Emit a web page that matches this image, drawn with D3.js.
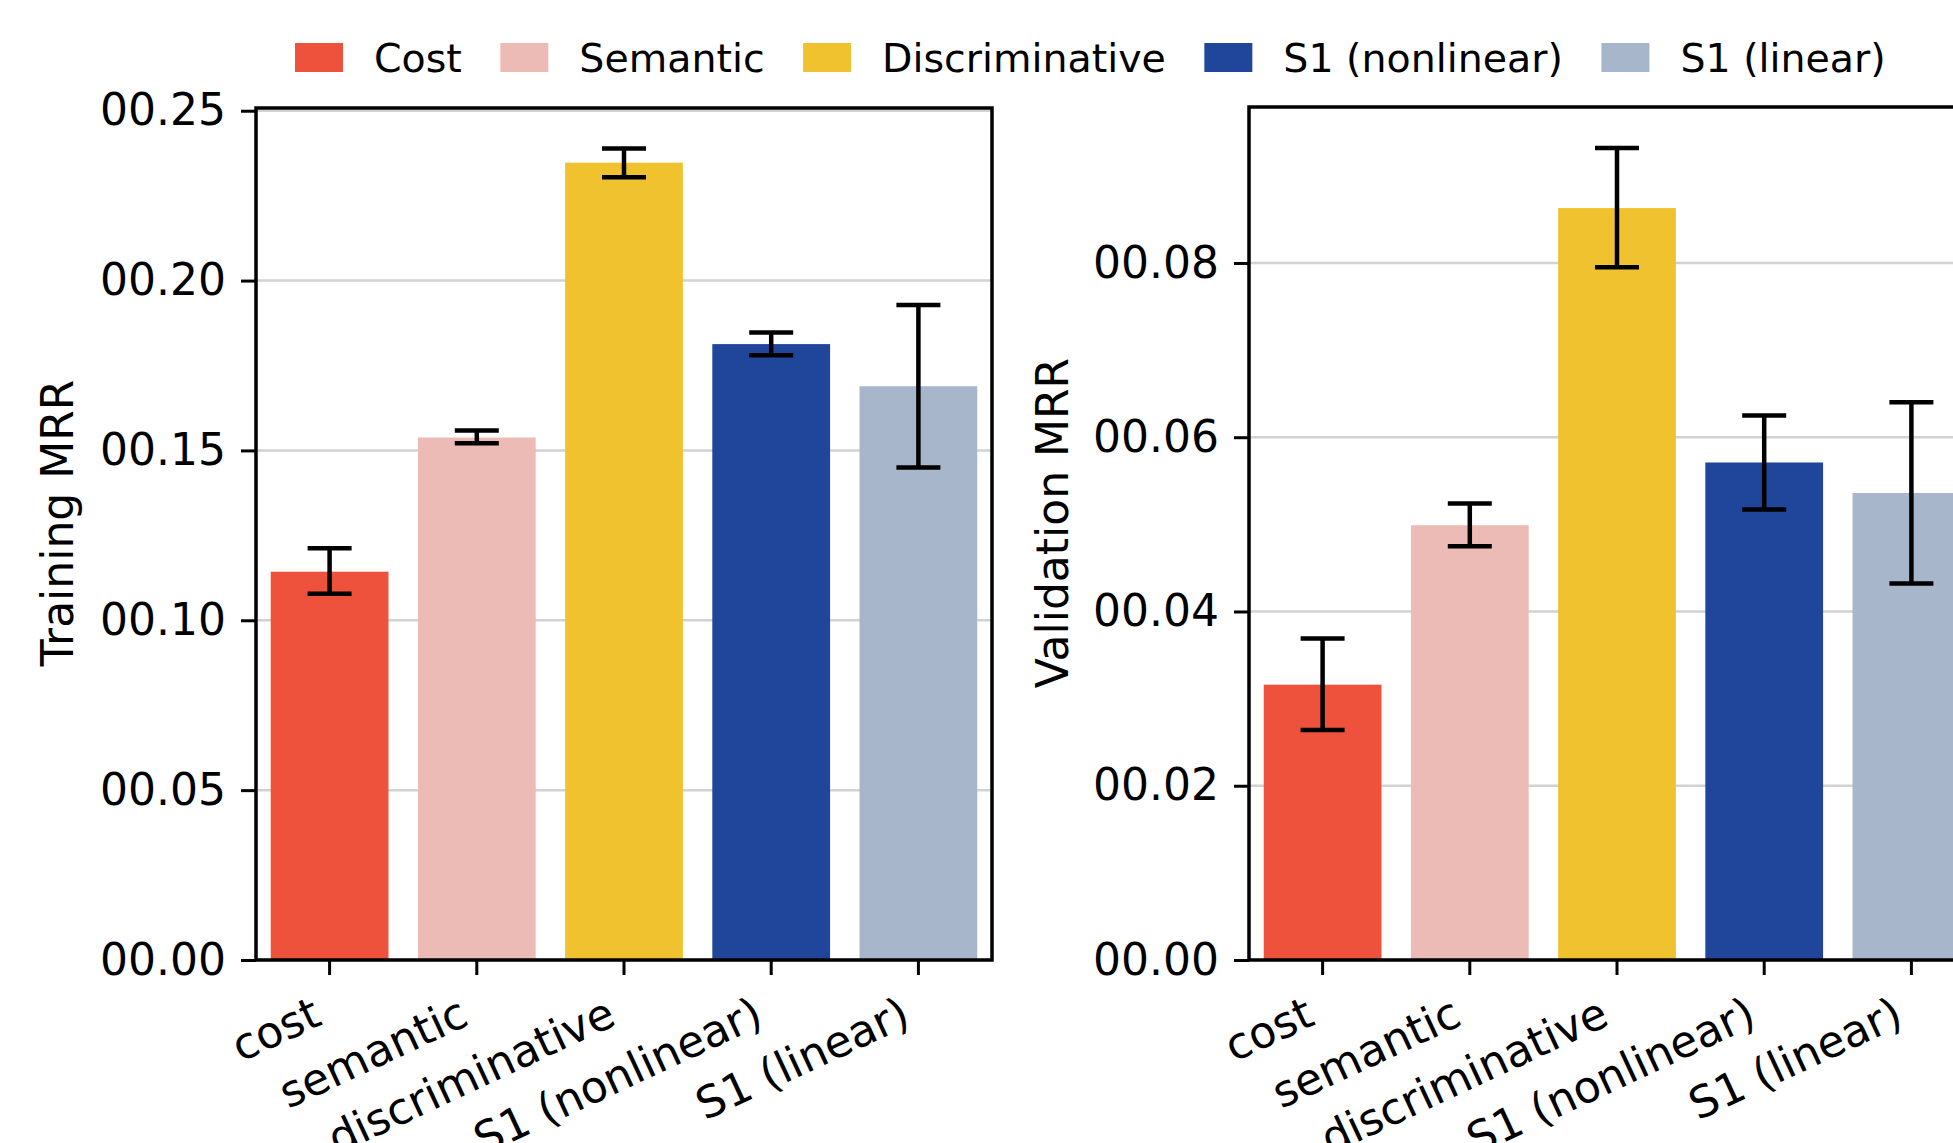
<!DOCTYPE html>
<html>
<head>
<meta charset="utf-8">
<script src="https://cdn.jsdelivr.net/npm/d3@7"></script>
<style>
  html, body { margin: 0; padding: 0; background: #fff; }
  text { font-family: "DejaVu Sans", sans-serif; fill: #000; }
</style>
</head>
<body>
<div id="diagram"></div>
<script>
// MRR bar charts, train / validation
const categories = ['cost', 'semantic', 'discriminative', 'S1 (nonlinear)', 'S1 (linear)'];
const legendLabels = ['Cost', 'Semantic', 'Discriminative', 'S1 (nonlinear)', 'S1 (linear)'];
const colors = ['#ef523c', '#ecbbb5', '#f0c22f', '#1f469b', '#a8b6cc'];

const trainMean = [0.1143, 0.1538, 0.2347, 0.1813, 0.1689];
const trainLow = [0.1078, 0.1521, 0.2304, 0.1780, 0.1450];
const trainHigh = [0.1212, 0.1559, 0.2389, 0.1847, 0.1928];
const trainTicks = [0, 0.05, 0.10, 0.15, 0.20, 0.25];

const validMean = [0.0316, 0.0499, 0.0863, 0.0571, 0.0536];
const validLow = [0.0264, 0.0475, 0.0795, 0.0517, 0.0432];
const validHigh = [0.0369, 0.0524, 0.0932, 0.0625, 0.0640];
const validTicks = [0, 0.02, 0.04, 0.06, 0.08];

!(function () {
  'use strict';
  let
    svg = undefined,
    canvas = undefined,
    panels = undefined,
    fontSize = 44,
    drawPanel = undefined,
    drawLegend = undefined;

  canvas = { width: 1953, height: 1143 };

  panels = [
    { left: 256, top: 108, width: 736, bottom: 960, ymax: 0.2508, label: 'Training MRR', labelX: 73,
      mean: trainMean, low: trainLow, high: trainHigh, ticks: trainTicks },
    { left: 1249, top: 107, width: 736, bottom: 960, ymax: 0.0979, label: 'Validation MRR', labelX: 1068,
      mean: validMean, low: validLow, high: validHigh, ticks: validTicks }
  ];

  svg = d3.select('#diagram')
    .append('svg')
    .attr('width', canvas.width)
    .attr('height', canvas.height);

  drawPanel = function (p) {
    let h = p.bottom - p.top,
      g = svg.append('g').attr('transform', 'translate(' + p.left + ',' + p.top + ')'),
      x = d3.scaleBand().domain(categories).range([0, p.width]).paddingInner(0.2).paddingOuter(0.1),
      y = d3.scaleLinear().domain([0, p.ymax]).range([h, 0]),
      rows = categories.map((c, i) => ({ c: c, i: i, m: p.mean[i], lo: p.low[i], hi: p.high[i] }));

    // grid
    g.append('g').selectAll('line')
      .data(p.ticks)
      .join('line')
      .attr('x1', 0).attr('x2', p.width)
      .attr('y1', d => y(d)).attr('y2', d => y(d))
      .attr('stroke', '#d2d2d2')
      .attr('stroke-width', 2.5);

    // bars
    g.append('g').selectAll('rect')
      .data(rows)
      .join('rect')
      .attr('x', d => x(d.c))
      .attr('width', x.bandwidth())
      .attr('y', d => y(d.m))
      .attr('height', d => h - y(d.m))
      .attr('fill', d => colors[d.i]);

    // error bars
    let eb = g.append('g').selectAll('g')
      .data(rows)
      .join('g')
      .attr('stroke', '#000')
      .attr('stroke-width', 4.5);
    eb.append('line')
      .attr('x1', d => x(d.c) + x.bandwidth() / 2).attr('x2', d => x(d.c) + x.bandwidth() / 2)
      .attr('y1', d => y(d.lo)).attr('y2', d => y(d.hi));
    ['lo', 'hi'].forEach(k => {
      eb.append('line')
        .attr('x1', d => x(d.c) + x.bandwidth() / 2 - 22).attr('x2', d => x(d.c) + x.bandwidth() / 2 + 22)
        .attr('y1', d => y(d[k])).attr('y2', d => y(d[k]));
    });

    // frame
    g.append('rect')
      .attr('width', p.width).attr('height', h)
      .attr('fill', 'none')
      .attr('stroke', '#000')
      .attr('stroke-width', 3.5);

    // y axis
    let ya = g.append('g')
      .call(d3.axisLeft(y).tickValues(p.ticks).tickSize(15).tickPadding(15).tickFormat(d3.format('05.2f')));
    ya.select('.domain').remove();
    ya.selectAll('.tick line').attr('stroke', '#000').attr('stroke-width', 3);
    ya.selectAll('.tick text').attr('font-size', fontSize).attr('font-family', 'DejaVu Sans');

    // x axis
    let xa = g.append('g')
      .attr('transform', 'translate(0,' + h + ')')
      .call(d3.axisBottom(x).tickSize(15));
    xa.select('.domain').remove();
    xa.selectAll('.tick line').attr('stroke', '#000').attr('stroke-width', 3);
    xa.selectAll('.tick text')
      .attr('font-size', fontSize)
      .attr('font-family', 'DejaVu Sans')
      .attr('text-anchor', 'end')
      .attr('dy', null)
      .attr('x', -6)
      .attr('y', 64)
      .attr('transform', 'rotate(-25,-6,64)');

    // y label
    svg.append('text')
      .attr('transform', 'translate(' + p.labelX + ',523) rotate(-90)')
      .attr('text-anchor', 'middle')
      .attr('font-size', fontSize)
      .text(p.label);
  };

  drawLegend = function () {
    let lg = svg.append('g'),
      cx = 295;
    legendLabels.forEach((name, i) => {
      lg.append('rect')
        .attr('x', cx).attr('y', 43)
        .attr('width', 48).attr('height', 29)
        .attr('fill', colors[i]);
      let t = lg.append('text')
        .attr('x', cx + 79).attr('y', 72)
        .attr('font-size', 39.5)
        .text(name);
      cx = cx + 79 + t.node().getComputedTextLength() + 38.5;
    });
  };

  panels.forEach(drawPanel);
  drawLegend();
}());
</script>
</body>
</html>
